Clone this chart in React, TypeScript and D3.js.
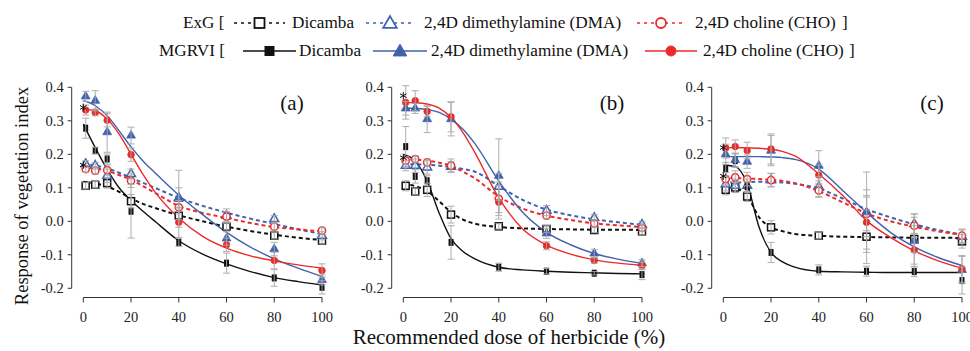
import React from 'react';
import * as d3 from 'd3';

// doses where the means were measured, and where the fitted curves were read
const DOSES = [1, 5, 10, 20, 40, 60, 80, 100];
const CURVE_DOSES = [0, 5, 10, 15, 20, 25, 30, 40, 50, 60, 70, 80, 90, 100];
const Y_TICKS = [-0.2, -0.1, 0, 0.1, 0.2, 0.3, 0.4];
const X_TICKS = [0, 20, 40, 60, 80, 100];
const PANEL_LABELS = ['(a)', '(b)', '(c)'];

// series order: ExG Dicamba, ExG DMA, ExG CHO, MGRVI Dicamba, MGRVI DMA, MGRVI CHO
const SERIES = ['ExG Dicamba', 'ExG DMA', 'ExG CHO', 'MGRVI Dicamba', 'MGRVI DMA', 'MGRVI CHO'];

const A_POINTS = [
  [0.106, 0.109, 0.114, 0.06, 0.017, -0.016, -0.043, -0.058],
  [0.171, 0.166, 0.136, 0.141, 0.07, 0.017, 0.007, -0.043],
  [0.156, 0.151, 0.153, 0.121, 0.042, 0.014, -0.016, -0.028],
  [0.278, 0.211, 0.186, 0.03, -0.063, -0.125, -0.169, -0.197],
  [0.373, 0.36, 0.266, 0.256, 0.067, -0.051, -0.083, -0.175],
  [0.332, 0.325, 0.302, 0.199, -0.003, -0.07, -0.117, -0.147],
];
const A_ERRORS = [
  [0.01, 0.01, 0.015, 0.02, 0.012, 0.01, 0.01, 0.01],
  [0.01, 0.01, 0.02, 0.015, 0.03, 0.02, 0.01, 0.012],
  [0.01, 0.01, 0.015, 0.02, 0.02, 0.015, 0.01, 0.01],
  [0.03, 0.01, 0.015, 0.08, 0.012, 0.03, 0.025, 0.02],
  [0.015, 0.03, 0.06, 0.025, 0.085, 0.02, 0.02, 0.015],
  [0.015, 0.01, 0.02, 0.02, 0.045, 0.02, 0.025, 0.02],
];
const A_CURVES = [
  [0.118, 0.113, 0.104, 0.088, 0.068, 0.052, 0.04, 0.018, 0.0, -0.016, -0.029, -0.04, -0.049, -0.056],
  [0.17, 0.167, 0.158, 0.145, 0.13, 0.115, 0.1, 0.07, 0.046, 0.026, 0.008, -0.008, -0.024, -0.038],
  [0.16, 0.158, 0.15, 0.138, 0.124, 0.105, 0.085, 0.046, 0.025, 0.01, -0.005, -0.017, -0.024, -0.03],
  [0.29, 0.22, 0.155, 0.1, 0.062, 0.03, 0.0, -0.058, -0.098, -0.127, -0.15, -0.168, -0.18, -0.19],
  [0.36, 0.345, 0.315, 0.27, 0.222, 0.18, 0.145, 0.078, 0.02, -0.033, -0.077, -0.112, -0.14, -0.165],
  [0.335, 0.33, 0.305, 0.26, 0.2, 0.14, 0.088, 0.01, -0.045, -0.08, -0.103, -0.118, -0.13, -0.14],
];
const A_STARS = [0.34, 0.168];

const B_POINTS = [
  [0.106, 0.089, 0.094, 0.02, -0.015, -0.023, -0.026, -0.03],
  [0.166, 0.166, 0.161, 0.163, 0.103, 0.032, 0.01, -0.01],
  [0.181, 0.186, 0.176, 0.166, 0.067, 0.017, -0.006, -0.02],
  [0.223, 0.134, 0.121, -0.063, -0.137, -0.149, -0.155, -0.159],
  [0.337, 0.337, 0.305, 0.305, 0.136, -0.036, -0.096, -0.125],
  [0.355, 0.36, 0.328, 0.312, 0.057, -0.073, -0.117, -0.132],
];
const B_ERRORS = [
  [0.015, 0.01, 0.02, 0.025, 0.008, 0.01, 0.008, 0.01],
  [0.015, 0.02, 0.02, 0.015, 0.04, 0.015, 0.01, 0.01],
  [0.012, 0.01, 0.01, 0.02, 0.05, 0.01, 0.01, 0.01],
  [0.06, 0.02, 0.015, 0.05, 0.012, 0.008, 0.005, 0.015],
  [0.02, 0.015, 0.04, 0.05, 0.11, 0.015, 0.012, 0.01],
  [0.05, 0.03, 0.015, 0.045, 0.05, 0.012, 0.008, 0.01],
];
const B_CURVES = [
  [0.11, 0.105, 0.09, 0.06, 0.027, 0.005, -0.007, -0.017, -0.021, -0.023, -0.024, -0.025, -0.025, -0.026],
  [0.17, 0.17, 0.169, 0.166, 0.162, 0.156, 0.148, 0.105, 0.064, 0.035, 0.018, 0.006, -0.003, -0.01],
  [0.185, 0.184, 0.181, 0.175, 0.165, 0.148, 0.128, 0.074, 0.038, 0.017, 0.004, -0.006, -0.012, -0.017],
  [0.2, 0.18, 0.12, 0.025, -0.052, -0.09, -0.112, -0.137, -0.145, -0.149, -0.152, -0.154, -0.156, -0.157],
  [0.338, 0.337, 0.334, 0.325, 0.305, 0.275, 0.232, 0.12, 0.027, -0.033, -0.07, -0.096, -0.113, -0.126],
  [0.355, 0.354, 0.35, 0.338, 0.31, 0.265, 0.205, 0.07, -0.023, -0.071, -0.098, -0.115, -0.125, -0.131],
];
const B_STARS = [0.375, 0.19];

const C_POINTS = [
  [0.094, 0.101, 0.074, -0.018, -0.043, -0.046, -0.053, -0.06],
  [0.111, 0.106, 0.106, 0.123, 0.103, 0.024, -0.008, -0.046],
  [0.126, 0.131, 0.126, 0.123, 0.092, 0.022, -0.013, -0.043],
  [0.156, 0.181, 0.103, -0.093, -0.145, -0.149, -0.15, -0.177],
  [0.2, 0.183, 0.178, 0.211, 0.166, 0.027, -0.058, -0.145],
  [0.219, 0.223, 0.211, 0.216, 0.138, -0.003, -0.086, -0.142],
];
const C_ERRORS = [
  [0.015, 0.015, 0.015, 0.02, 0.01, 0.08, 0.04, 0.02],
  [0.02, 0.02, 0.02, 0.02, 0.03, 0.07, 0.03, 0.02],
  [0.02, 0.02, 0.02, 0.02, 0.02, 0.05, 0.035, 0.02],
  [0.02, 0.02, 0.015, 0.03, 0.015, 0.015, 0.015, 0.04],
  [0.03, 0.02, 0.02, 0.045, 0.045, 0.12, 0.07, 0.04],
  [0.03, 0.02, 0.025, 0.045, 0.03, 0.08, 0.05, 0.04],
];
const C_CURVES = [
  [0.1, 0.098, 0.077, 0.012, -0.018, -0.03, -0.038, -0.043, -0.046, -0.047, -0.048, -0.049, -0.049, -0.05],
  [0.115, 0.116, 0.117, 0.118, 0.118, 0.116, 0.112, 0.098, 0.068, 0.036, 0.012, -0.009, -0.026, -0.04],
  [0.13, 0.129, 0.128, 0.126, 0.124, 0.12, 0.114, 0.09, 0.057, 0.024, 0.0, -0.016, -0.03, -0.04],
  [0.168, 0.163, 0.112, -0.018, -0.093, -0.122, -0.137, -0.149, -0.151, -0.152, -0.153, -0.153, -0.153, -0.153],
  [0.193, 0.193, 0.193, 0.193, 0.192, 0.19, 0.185, 0.156, 0.092, 0.027, -0.033, -0.076, -0.108, -0.132],
  [0.22, 0.22, 0.219, 0.218, 0.215, 0.208, 0.195, 0.141, 0.077, 0.002, -0.048, -0.088, -0.118, -0.14],
];
const C_STARS = [0.22, 0.135];

const PANELS = [
  { points: A_POINTS, errors: A_ERRORS, curves: A_CURVES, stars: A_STARS },
  { points: B_POINTS, errors: B_ERRORS, curves: B_CURVES, stars: B_STARS },
  { points: C_POINTS, errors: C_ERRORS, curves: C_CURVES, stars: C_STARS },
];

const BLACK = '#111';
const BLUE = '#4062ae';
const RED = '#ec2a2a';
const GREY = '#a9a9a9';
const FONT = "'Liberation Serif', 'Times New Roman', Times, serif";

// how each series is drawn
const STYLE = [
  { color: BLACK, dashed: true, shape: 'square', filled: false },
  { color: BLUE, dashed: true, shape: 'triangle', filled: false },
  { color: RED, dashed: true, shape: 'circle', filled: false },
  { color: BLACK, dashed: false, shape: 'square', filled: true },
  { color: BLUE, dashed: false, shape: 'triangle', filled: true },
  { color: RED, dashed: false, shape: 'circle', filled: true },
];

const triPath = d3.symbol(d3.symbolTriangle, 34)() as string;
const starPath = d3.symbol(d3.symbolAsterisk, 40)() as string;

function Marker({ cx, cy, s }: { cx: number; cy: number; s: typeof STYLE[number] }) {
  const fill = s.filled ? s.color : 'white';
  const sw = s.filled ? 0.8 : 1.5;
  if (s.shape === 'square') {
    if (s.filled) return <rect x={cx - 2.5} y={cy - 3.5} width={5} height={7} fill={s.color} />;
    return <rect x={cx - 3.5} y={cy - 3.5} width={7} height={7} fill="white" stroke={s.color} strokeWidth={1.5} />;
  }
  if (s.shape === 'triangle') {
    return <path d={triPath} transform={`translate(${cx},${cy})`} fill={fill} stroke={s.color} strokeWidth={sw} />;
  }
  return <circle cx={cx} cy={cy} r={s.filled ? 3.3 : 3.6} fill={fill} stroke={s.color} strokeWidth={sw} />;
}

function Panel({ index }: { index: number }) {
  const p = PANELS[index];
  const off = index * 320;
  const x = d3.scaleLinear().domain([0, 100]).range([83.3 + off, 322 + off]);
  const y = d3.scaleLinear().domain([-0.2, 0.4]).range([288.3, 87.3]);
  const axisX = off + 71.7;
  const axisY = 297.5;
  const line = d3.line<number>()
    .x((_, i) => x(CURVE_DOSES[i]))
    .y(d => y(d))
    .curve(d3.curveMonotoneX);

  return (
    <g style={{ fontFamily: FONT }}>
      {/* y axis */}
      <line x1={axisX} x2={axisX} y1={y(-0.2)} y2={y(0.4)} stroke="#333" strokeWidth={1} />
      {Y_TICKS.map(t => (
        <g key={t}>
          <line x1={axisX - 4} x2={axisX} y1={y(t)} y2={y(t)} stroke="#333" />
          <text x={axisX - 8} y={y(t)} dy="0.35em" textAnchor="end" fontSize={14.5} fill="#222">
            {t.toFixed(1)}
          </text>
        </g>
      ))}
      {/* x axis */}
      <line x1={x(0)} x2={x(100)} y1={axisY} y2={axisY} stroke="#333" strokeWidth={1} />
      {X_TICKS.map(t => (
        <g key={t}>
          <line x1={x(t)} x2={x(t)} y1={axisY} y2={axisY + 5} stroke="#333" />
          <text x={x(t)} y={322} textAnchor="middle" fontSize={14.5} fill="#222">{t}</text>
        </g>
      ))}
      <text x={off + 292} y={110} textAnchor="middle" fontSize={21} fill="#111">
        {PANEL_LABELS[index]}
      </text>

      {/* fitted curves */}
      {p.curves.map((c, si) => (
        <path key={SERIES[si]} d={line(c) as string} fill="none" stroke={STYLE[si].color}
          strokeWidth={STYLE[si].dashed ? 2 : 1.4} strokeDasharray={STYLE[si].dashed ? '4,3' : undefined} />
      ))}

      {/* markers */}
      {p.points.map((vals, si) => vals.map((v, di) => (
        <Marker key={`${si}-${di}`} cx={x(DOSES[di])} cy={y(v)} s={STYLE[si]} />
      )))}

      {/* error bars */}
      {p.points.map((vals, si) => vals.map((v, di) => {
        const e = p.errors[si][di];
        const cx = x(DOSES[di]);
        return (
          <g key={`e${si}-${di}`} stroke={GREY} strokeWidth={1.1} opacity={0.85}>
            <line x1={cx} x2={cx} y1={y(v + e)} y2={y(v - e)} />
            <line x1={cx - 3.5} x2={cx + 3.5} y1={y(v + e)} y2={y(v + e)} />
            <line x1={cx - 3.5} x2={cx + 3.5} y1={y(v - e)} y2={y(v - e)} />
          </g>
        );
      }))}

      {p.stars.map((v, i) => (
        <path key={`s${i}`} d={starPath} transform={`translate(${x(0)},${y(v)})`} fill="none" stroke={BLACK} strokeWidth={1} />
      ))}
    </g>
  );
}

function LegendMark({ x1, x2, cy, si }: { x1: number; x2: number; cy: number; si: number }) {
  const s = STYLE[si];
  const mid = (x1 + x2) / 2;
  return (
    <g>
      <line x1={x1} x2={x2} y1={cy} y2={cy} stroke={s.color}
        strokeWidth={1.6} strokeDasharray={s.dashed ? '3,4' : undefined} />
      {s.shape === 'square' && !s.filled && (
        <rect x={mid - 5} y={cy - 5} width={10} height={10} fill="white" stroke={s.color} strokeWidth={1.8} />
      )}
      {s.shape === 'square' && s.filled && <rect x={mid - 5} y={cy - 5} width={10} height={10} fill={s.color} />}
      {s.shape === 'triangle' && (
        <path d={d3.symbol(d3.symbolTriangle, 80)() as string} transform={`translate(${mid},${cy + 1})`}
          fill={s.filled ? s.color : 'white'} stroke={s.color} strokeWidth={s.filled ? 1 : 1.8} />
      )}
      {s.shape === 'circle' && (
        <circle cx={mid} cy={cy} r={5} fill={s.filled ? s.color : 'white'} stroke={s.color} strokeWidth={s.filled ? 1 : 1.8} />
      )}
    </g>
  );
}

function Legend() {
  const t = { fontSize: 17.2, fill: '#111' };
  return (
    <g style={{ fontFamily: FONT }}>
      <text x={183} y={28} {...t}>ExG [</text>
      <LegendMark x1={234} x2={285} cy={23} si={0} />
      <text x={292} y={28} {...t}>Dicamba</text>
      <LegendMark x1={366} x2={414} cy={23} si={1} />
      <text x={424} y={28} {...t}>2,4D dimethylamine (DMA)</text>
      <LegendMark x1={637} x2={685} cy={23} si={2} />
      <text x={695} y={28} {...t}>2,4D choline (CHO)</text>
      <text x={842} y={28} {...t}>]</text>

      <text x={159} y={56} {...t}>MGRVI [</text>
      <LegendMark x1={243} x2={296} cy={51} si={3} />
      <text x={299} y={56} {...t}>Dicamba</text>
      <LegendMark x1={373} x2={427} cy={51} si={4} />
      <text x={431} y={56} {...t}>2,4D dimethylamine (DMA)</text>
      <LegendMark x1={645} x2={697} cy={51} si={5} />
      <text x={703} y={56} {...t}>2,4D choline (CHO)</text>
      <text x={849} y={56} {...t}>]</text>
    </g>
  );
}

export default function App() {
  return (
    <svg width={970} height={351} style={{ position: 'absolute', left: 0, top: 0, background: 'white' }}>
      <rect width={970} height={351} fill="white" />
      <Legend />
      {PANEL_LABELS.map((_, i) => <Panel key={i} index={i} />)}
      <text transform="translate(28,196) rotate(-90)" textAnchor="middle" fontSize={18.5} style={{ fontFamily: FONT }} fill="#111">
        Response of vegetation index
      </text>
      <text x={509} y={344} textAnchor="middle" fontSize={21} style={{ fontFamily: FONT }} fill="#111">
        Recommended dose of herbicide (%)
      </text>
    </svg>
  );
}
